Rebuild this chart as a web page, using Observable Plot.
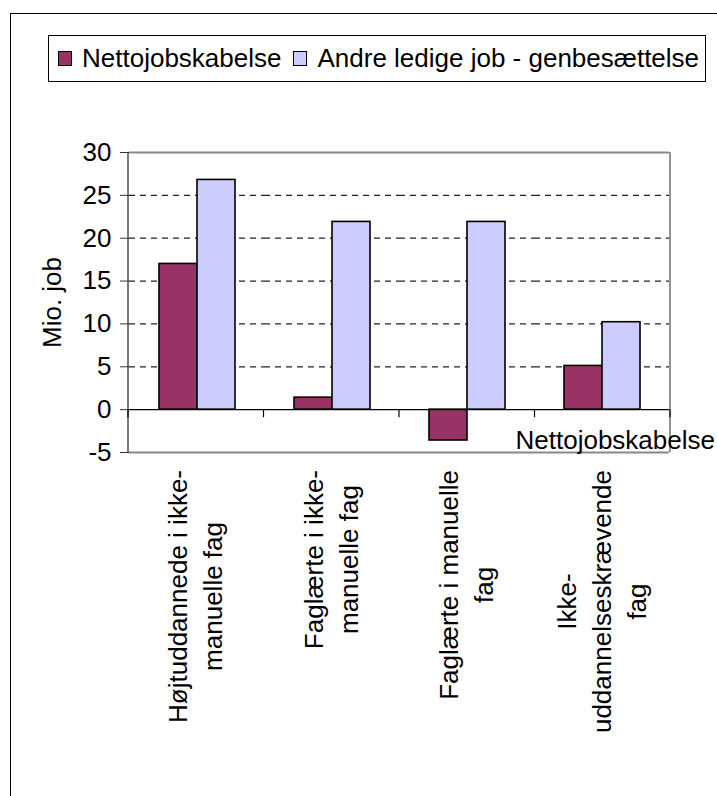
<!DOCTYPE html>
<html>
<head>
<meta charset="utf-8">
<script src="https://cdn.jsdelivr.net/npm/d3@7"></script>
<script src="https://cdn.jsdelivr.net/npm/@observablehq/plot@0.6"></script>
<style>
  body { margin: 0; background: #fff; }
  #wrap { position: relative; width: 717px; height: 796px; overflow: hidden; font-family: "Liberation Sans", Arial, sans-serif; background: #fff; }
  #outer { position: absolute; left: 10px; top: 13px; width: 900px; height: 1000px; border: 1.5px solid #000; box-sizing: border-box; }
  #legend { position: absolute; left: 48px; top: 35px; width: 658px; height: 47px; border: 1.3px solid #000; box-sizing: border-box; display: flex; align-items: center; padding-left: 9px; font-size: 26px; color: #000; background: #fff; z-index: 2; }
  .sw { width: 14px; height: 15px; border: 1.5px solid #000; box-sizing: border-box; margin-right: 10px; flex: none; }
  .item { display: flex; align-items: center; white-space: nowrap; }
  .item + .item { margin-left: 12px; }
  #chart { position: absolute; left: 0; top: 0; z-index: 1; }
</style>
</head>
<body>
<div id="wrap">
  <div id="outer"></div>
  <div id="legend"></div>
  <div id="chart"></div>
</div>
<script>
// ---- data ----
const categories = [
  "Højtuddannede i ikke-\nmanuelle fag",
  "Faglærte i ikke-\nmanuelle fag",
  "Faglærte i manuelle\nfag",
  "Ikke-\nuddannelseskrævende\nfag"
];
const series = ["Nettojobskabelse", "Andre ledige job - genbesættelse"];
const nettojobskabelse = [17.0, 1.4, -3.6, 5.1];
const andreLedigeJob = [26.8, 21.9, 21.9, 10.2];
const yTicks = [-5, 0, 5, 10, 15, 20, 25, 30];
const gridTicks = [5, 10, 15, 20, 25];
const colors = ["#993366", "#CCCCFF"];
const yLabel = "Mio. job";
const strayLabel = "Nettojobskabelse";

const rows = categories.flatMap((c, i) => [
  { cat: c, s: series[0], v: nettojobskabelse[i] },
  { cat: c, s: series[1], v: andreLedigeJob[i] }
]);

// ---- legend ----
const legend = document.getElementById("legend");
series.forEach((s, i) => {
  const it = document.createElement("div");
  it.className = "item";
  const sw = document.createElement("div");
  sw.className = "sw";
  sw.style.background = colors[i];
  const tx = document.createElement("span");
  tx.textContent = s;
  it.appendChild(sw); it.appendChild(tx);
  legend.appendChild(it);
});

// ---- chart ----
const FONT = "26px";
const chart = Plot.plot({
  width: 717,
  height: 796,
  marginLeft: 128,
  marginRight: 47,
  marginTop: 152,
  marginBottom: 344,
  style: { fontFamily: "'Liberation Sans', Arial, sans-serif", fontSize: FONT, background: "transparent", color: "#000", overflow: "visible" },
  fx: { domain: categories, padding: 0 },
  x: { domain: series, paddingInner: 0, paddingOuter: 0.736, axis: null },
  y: { domain: [-5, 30] },
  color: { domain: series, range: colors },
  marks: [
    Plot.gridY(gridTicks, { stroke: "#222", strokeOpacity: 1, strokeWidth: 1.2, strokeDasharray: "6,5" }),
    Plot.ruleY([30, -5], { stroke: "#888", strokeWidth: 1.8 }),
    Plot.barY(rows, { fx: "cat", x: "s", y: "v", fill: "s", stroke: "#000", strokeWidth: 1.6, insetLeft: 0, insetRight: 0 }),
    Plot.ruleY([0], { stroke: "#000", strokeWidth: 1.2 }),
    Plot.axisY({ ticks: yTicks, tickFormat: d => `${d}`, tickSize: 9, tickPadding: 9, fontSize: FONT, stroke: "#333", label: yLabel, labelAnchor: "center", labelOffset: 87, labelArrow: "none" }),
    Plot.axisFx({ tickSize: 0, tickRotate: -90, fontSize: FONT, lineHeight: 1.35, label: null, textAnchor: "middle" })
  ]
});
document.getElementById("chart").appendChild(chart);

// ---- post: frame lines, category boundary ticks, label placement ----
const svg = d3.select(chart);
const fxS = chart.scale("fx");
const yS = chart.scale("y");
const fxScale = d3.scaleBand(fxS.domain, fxS.range).padding(0);
const yScale = d3.scaleLinear(yS.domain, yS.range);
const x0 = fxS.range[0], x1 = fxS.range[1];

const g = svg.append("g");
// right frame edge
g.append("line").attr("x1", x1).attr("x2", x1).attr("y1", yScale(30)).attr("y2", yScale(-5))
  .attr("stroke", "#888").attr("stroke-width", 1.8);
// left axis line
g.append("line").attr("x1", x0).attr("x2", x0).attr("y1", yScale(30)).attr("y2", yScale(-5))
  .attr("stroke", "#333").attr("stroke-width", 1.3);
// category boundary ticks on the zero line
const bounds = categories.map(c => fxScale(c)).concat([fxScale(categories[categories.length - 1]) + fxScale.bandwidth()]);
g.selectAll("line.b").data(bounds).join("line").attr("class", "b")
  .attr("x1", d => d).attr("x2", d => d)
  .attr("y1", yScale(0)).attr("y2", yScale(0) + 8)
  .attr("stroke", "#000").attr("stroke-width", 1.2);
// stray series label at lower right
g.append("text").text(strayLabel)
  .attr("x", x1 + 45).attr("y", yScale(-5) - 3)
  .attr("text-anchor", "end").attr("font-size", FONT)
  .attr("font-family", "'Liberation Sans', Arial, sans-serif").attr("fill", "#000");

// place rotated category labels: lines centred, block top just below plot
const svgRect = chart.getBoundingClientRect();
const centers = categories.map(c => fxScale(c) + fxScale.bandwidth() / 2);
const targetTop = yScale(-5) + 18;
svg.selectAll('g[aria-label="fx-axis tick label"] text').each(function () {
  this.setAttribute("text-anchor", "middle");
  const r = this.getBoundingClientRect();
  const cx = (r.left + r.right) / 2 - svgRect.left;
  const top = r.top - svgRect.top;
  const target = centers.reduce((a, b) => Math.abs(b - cx) < Math.abs(a - cx) ? b : a);
  const t = this.getAttribute("transform") || "";
  this.setAttribute("transform", `translate(${target - cx},${targetTop - top}) ` + t);
});
</script>
</body>
</html>
